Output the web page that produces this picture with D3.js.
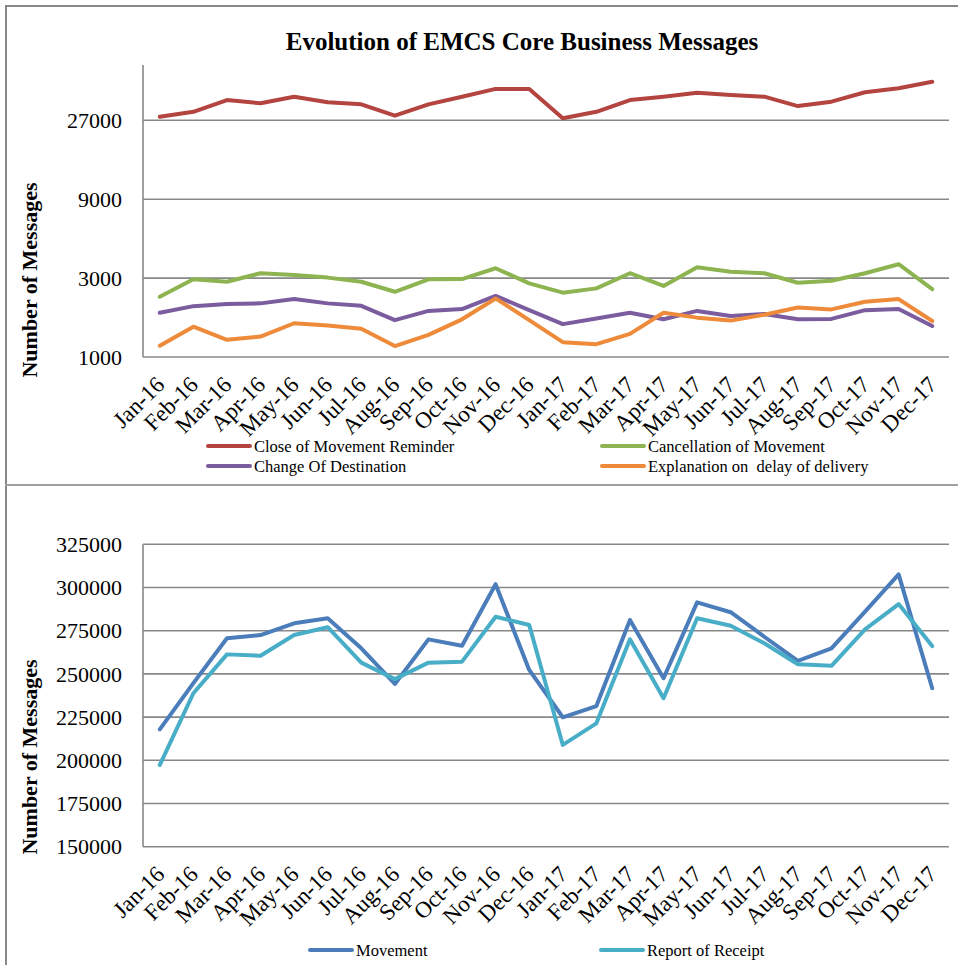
<!DOCTYPE html>
<html><head><meta charset="utf-8">
<script src="https://cdn.jsdelivr.net/npm/d3@7"></script>
<style>html,body{margin:0;padding:0;background:#fff;}svg{display:block;}text{white-space:pre;}</style>
</head><body>
<svg id="c" width="958" height="965"></svg>
<script>
const months = ["Jan-16","Feb-16","Mar-16","Apr-16","May-16","Jun-16","Jul-16","Aug-16","Sep-16","Oct-16","Nov-16","Dec-16",
                "Jan-17","Feb-17","Mar-17","Apr-17","May-17","Jun-17","Jul-17","Aug-17","Sep-17","Oct-17","Nov-17","Dec-17"];
const closeReminder = [28400,30400,35800,34200,37500,34700,33700,28800,33700,37500,41800,41800,
                       27800,30400,35800,37500,39600,38400,37500,32900,35000,39900,42200,46200];
const cancellation = [2315,2950,2850,3210,3130,3020,2850,2480,2950,2960,3440,2790,
                      2450,2600,3210,2690,3490,3280,3210,2810,2890,3210,3640,2570];
const changeDest = [1850,2030,2090,2110,2240,2110,2040,1670,1900,1950,2340,1920,
                    1580,1710,1850,1690,1900,1770,1820,1690,1700,1920,1950,1540];
const explanation = [1170,1525,1270,1330,1600,1550,1480,1165,1360,1690,2260,1670,
                     1230,1195,1380,1850,1730,1660,1800,1990,1940,2160,2240,1650];
const movement = [217900,244700,270600,272500,279300,282200,264800,244200,270000,266300,301900,252300,
                  224900,231400,281200,247500,291400,285700,271500,257500,264800,286000,307600,241700];
const receipt = [197300,238800,261300,260500,272500,277000,256500,247000,256500,257100,283100,278300,
                 208900,221400,270000,235900,282200,277900,267700,255600,254700,275800,290400,266100];
const topTicks = [1000,3000,9000,27000];
const topDomain = [1000,58300];
const bottomTicks = [150000,175000,200000,225000,250000,275000,300000,325000];
const bottomDomain = [150000,325000];
const topTitle = "Evolution of EMCS Core Business Messages";
const yTitle = "Number of Messages";
const topSeries = [
  {name:"Close of Movement Reminder", values:closeReminder, color:"#B3443F"},
  {name:"Cancellation of Movement", values:cancellation, color:"#8DB450"},
  {name:"Change Of Destination", values:changeDest, color:"#7B5C9E"},
  {name:"Explanation on  delay of delivery", values:explanation, color:"#EE8B3A"}
];
const bottomSeries = [
  {name:"Movement", values:movement, color:"#4A7DBA"},
  {name:"Report of Receipt", values:receipt, color:"#48ADC7"}
];

const svg = d3.select("#c");
const FONT = "'Liberation Serif','Times New Roman',serif";
const GRID = "#888888";

svg.append("line").attr("x1",6).attr("x2",6).attr("y1",5).attr("y2",965).attr("stroke",GRID).attr("stroke-width",2);
svg.append("line").attr("x1",5).attr("x2",958).attr("y1",6).attr("y2",6).attr("stroke",GRID).attr("stroke-width",2);
svg.append("line").attr("x1",5).attr("x2",958).attr("y1",485).attr("y2",485).attr("stroke","#a0a0a0").attr("stroke-width",2);

const x = d3.scalePoint().domain(months).range([143,949]).padding(0.5);

function drawChart(cfg){
  const g = svg.append("g");
  const y = cfg.y;
  g.selectAll(".grid").data(cfg.ticks).enter().append("line")
    .attr("x1",143).attr("x2",949).attr("y1",d=>y(d)).attr("y2",d=>y(d))
    .attr("stroke",GRID).attr("stroke-width",1.6);
  g.append("line").attr("x1",143).attr("x2",143).attr("y1",cfg.top).attr("y2",y(cfg.ticks[0]))
    .attr("stroke",GRID).attr("stroke-width",1.6);
  g.selectAll(".yt").data(cfg.ticks).enter().append("text")
    .attr("x",122).attr("y",d=>y(d)).attr("dy","0.35em").attr("text-anchor","end")
    .attr("font-family",FONT).attr("font-size",22).attr("fill","#000").text(d=>d);
  g.selectAll(".xt").data(months).enter().append("text")
    .attr("transform",d=>`translate(${x(d)+6},${y(cfg.ticks[0])+29}) rotate(-45)`)
    .attr("text-anchor","end").attr("font-family",FONT).attr("font-size",23).attr("fill","#000").text(d=>d);
  g.append("text").attr("transform",`translate(37,${cfg.titleY}) rotate(-90)`).attr("text-anchor","middle")
    .attr("font-family",FONT).attr("font-size",22).attr("font-weight","bold").text(yTitle);
  const line = d3.line().x((d,i)=>x(months[i])).y(d=>y(d));
  cfg.series.forEach(s=>{
    g.append("path").attr("d",line(s.values)).attr("fill","none").attr("stroke",s.color)
      .attr("stroke-width",4).attr("stroke-linejoin","round").attr("stroke-linecap","round");
  });
  cfg.legend.forEach(l=>{
    const s = cfg.series[l.i];
    g.append("line").attr("x1",l.x).attr("x2",l.x+42).attr("y1",l.y).attr("y2",l.y)
      .attr("stroke",s.color).attr("stroke-width",4).attr("stroke-linecap","round");
    g.append("text").attr("x",l.x+46).attr("y",l.y).attr("dy","0.35em")
      .attr("font-family",FONT).attr("font-size",16.5).attr("fill","#000").text(s.name);
  });
}

const yTop = d3.scaleLog().base(3).domain(topDomain).range([357,65]);
svg.append("text").attr("x",522).attr("y",50).attr("text-anchor","middle")
  .attr("font-family",FONT).attr("font-size",25).attr("font-weight","bold").text(topTitle);
drawChart({y:yTop, ticks:topTicks, top:65, titleY:280, series:topSeries,
  legend:[{i:0,x:208,y:446},{i:1,x:602,y:446},{i:2,x:208,y:466},{i:3,x:602,y:466}]});

const yBot = d3.scaleLinear().domain(bottomDomain).range([846.7,544.3]);
drawChart({y:yBot, ticks:bottomTicks, top:544.3, titleY:757, series:bottomSeries,
  legend:[{i:0,x:310,y:950},{i:1,x:601,y:950}]});
</script>
</body></html>
